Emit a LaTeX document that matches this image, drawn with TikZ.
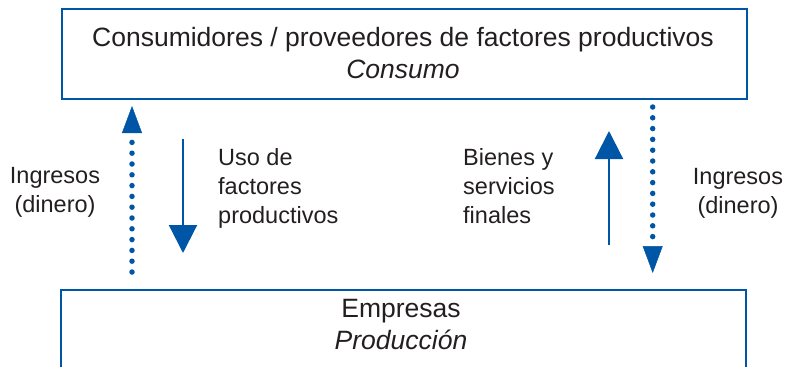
\documentclass[tikz,border=0pt]{standalone}
\usepackage{fontspec}
\setmainfont{Liberation Sans}
\usetikzlibrary{arrows.meta}
\definecolor{flowblue}{HTML}{0056A6}
\definecolor{ink}{HTML}{231F20}
\begin{document}
\begin{tikzpicture}[x=1pt,y=-1pt,
  sectorbox/.style={draw=flowblue,line width=2pt,minimum width=685pt,inner sep=0pt},
  boxtext/.style={text=ink,font=\fontsize{26.5}{32}\selectfont,align=center,inner sep=0pt,anchor=base},
  sidetext/.style={text=ink,font=\fontsize{23.5}{29}\selectfont,inner sep=0pt},
  realflow/.style={draw=flowblue,line width=2.2pt,-{Triangle[width=28pt,length=28pt]}},
  moneyflow/.style={draw=flowblue,line width=5.5pt,line cap=round,dash pattern=on 0pt off 10.8pt,-{Triangle[width=20pt,length=27pt,line width=0.5pt]}}]
\useasboundingbox (0,0) rectangle (785,367);
% boxes
\node[sectorbox,minimum height=89.5pt] (consumo) at (404.5,53.75) {};
\node[sectorbox,minimum height=120pt,anchor=north] (empresas) at (403.5,289) {};
\node[boxtext] (consumotext) at (403,78.7) {Consumidores / proveedores de factores productivos\\\textit{Consumo}};
\node[boxtext] (empresastext) at (401,349) {Empresas\\\textit{Producción}};
% arrow ends
\coordinate (ingLa) at (132,272); \coordinate (ingLb) at (132,106);
\coordinate (usoa) at (183,139); \coordinate (usob) at (183,253);
\coordinate (biena) at (609,245); \coordinate (bienb) at (609,131);
\coordinate (ingRa) at (652.7,107); \coordinate (ingRb) at (652.7,273);
\draw[moneyflow] (ingLa) -- (ingLb);
\draw[realflow] (usoa) -- (usob);
\draw[realflow] (biena) -- (bienb);
\draw[moneyflow] (ingRa) -- (ingRb);
% labels
\node[sidetext,anchor=base,align=center] (ingLtext) at (55,212) {Ingresos\\(dinero)};
\node[sidetext,anchor=base west,align=left] (usotext) at (218,223) {Uso de\\factores\\productivos};
\node[sidetext,anchor=base west,align=left] (bientext) at (463,223) {Bienes y\\servicios\\finales};
\node[sidetext,anchor=base,align=center] (ingRtext) at (738,213) {Ingresos\\(dinero)};
\end{tikzpicture}
\end{document}
